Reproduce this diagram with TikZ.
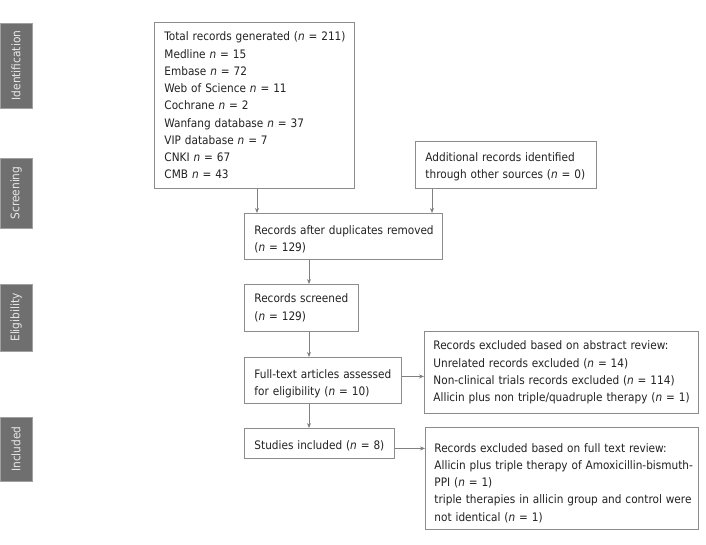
\documentclass[tikz,border=0pt]{standalone}
\usepackage{fontspec}
\setmainfont{DejaVu Sans Condensed}
\usetikzlibrary{arrows.meta}
\definecolor{boxgray}{HTML}{8C8C8C}
\definecolor{linegray}{HTML}{808080}
\definecolor{tabfill}{HTML}{6F6F6F}
\definecolor{tabline}{HTML}{A0A0A0}
\definecolor{tabtext}{HTML}{E8E8E8}
\definecolor{txt}{HTML}{222222}
\newcommand{\nn}{\textit{n}}
\newcommand{\lyn}[1]{\mbox{#1}}
\newcommand{\tp}[1]{\rule{0pt}{#1}}
\tikzset{
  box/.style={draw=boxgray, line width=0.9pt, rectangle, anchor=north west,
    inner xsep=10pt, inner ysep=0pt, align=left, text=txt,
    font=\fontsize{11.7}{17.25}\selectfont},
  arr/.style={draw=linegray, line width=0.9pt, -{Stealth[length=5pt,width=4pt,fill=txt]}},
  tab/.style={draw=tabline, fill=tabfill, line width=0.8pt, rotate=90,
    text=tabtext, minimum height=32pt, inner sep=0pt,
    font=\fontsize{11.8}{13}\selectfont}
}
\begin{document}
\begin{tikzpicture}[x=1pt,y=-1pt]
\useasboundingbox[fill=white] (0,0) rectangle (706,545);
% side tabs
\node[tab, minimum width=85pt] (t1) at (16,65.5) {Identification};
\node[tab, minimum width=70pt] (t2) at (16,193) {Screening};
\node[tab, minimum width=67pt] (t3) at (16,317.5) {Eligibility};
\node[tab, minimum width=64pt] (t4) at (16,449) {Included};
% boxes
\node[box, minimum width=200pt, minimum height=166pt, text width=180pt] (b1) at (154,22)
 {\lyn{Total records generated (\nn{} = 211)}\\
  \lyn{Medline \nn{} = 15}\\
  \lyn{Embase \nn{} = 72}\\
  \lyn{Web of Science \nn{} = 11}\\
  \lyn{Cochrane \nn{} = 2}\\
  \lyn{Wanfang database \nn{} = 37}\\
  \lyn{VIP database \nn{} = 7}\\
  \lyn{CNKI \nn{} = 67}\\
  \lyn{CMB \nn{} = 43}};
\node[box, minimum width=181pt, minimum height=47pt, text width=161pt] (b2) at (415,141)
 {\tp{13pt}\lyn{Additional records identified}\\ \lyn{through other sources (\nn{} = 0)}};
\node[box, minimum width=198pt, minimum height=46pt, text width=178pt] (b3) at (244,213)
 {\tp{14pt}\lyn{Records after duplicates removed}\\ \lyn{(\nn{} = 129)}};
\node[box, minimum width=114pt, minimum height=47pt, text width=94pt] (b4) at (244,284)
 {\lyn{Records screened}\\ \lyn{(\nn{} = 129)}};
\node[box, minimum width=157pt, minimum height=46pt, text width=137pt] (b5) at (244,357)
 {\tp{15pt}\lyn{Full-text articles assessed}\\ \lyn{for eligibility (\nn{} = 10)}};
\node[box, minimum width=150pt, minimum height=30pt, text width=130pt] (b6) at (244,428)
 {\tp{14pt}\lyn{Studies included (\nn{} = 8)}};
\node[box, minimum width=274pt, minimum height=82pt, text width=256pt, inner xsep=9pt] (b7) at (424,331)
 {\lyn{Records excluded based on abstract review:}\\
  \lyn{Unrelated records excluded (\nn{} = 14)}\\
  \lyn{Non-clinical trials records excluded (\nn{} = 114)}\\
  \lyn{Allicin plus non triple/quadruple therapy (\nn{} = 1)}};
\node[box, minimum width=273pt, minimum height=102pt, text width=255pt, inner xsep=9pt] (b8) at (425,427)
 {\tp{18pt}\lyn{Records excluded based on full text review:}\\
  \lyn{Allicin plus triple therapy of Amoxicillin-bismuth-}\\
  \lyn{PPI (\nn{} = 1)}\\
  \lyn{triple therapies in allicin group and control were}\\
  \lyn{not identical (\nn{} = 1)}};
% connectors
\draw[arr] ([xshift=103pt]b1.south west) -- ([xshift=103pt]b1.south west |- b3.north);
\draw[arr] ([xshift=17pt]b2.south west) -- ([xshift=17pt]b2.south west |- b3.north);
\draw[arr] ([xshift=65pt]b3.south west) -- ([xshift=65pt]b3.south west |- b4.north);
\draw[arr] ([xshift=65pt]b4.south west) -- ([xshift=65pt]b4.south west |- b5.north);
\draw[arr] ([xshift=65pt]b5.south west) -- ([xshift=65pt]b5.south west |- b6.north);
\draw[arr] ([yshift=4pt]b5.east) -- ([yshift=4pt]b5.east -| b7.west);
\draw[arr] ([yshift=-5pt]b6.east) -- ([yshift=-5pt]b6.east -| b8.west);
\end{tikzpicture}
\end{document}
